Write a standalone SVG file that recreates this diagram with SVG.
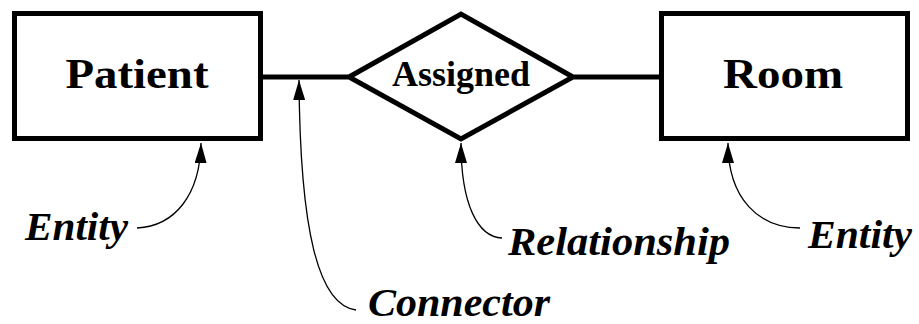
<svg xmlns="http://www.w3.org/2000/svg" width="919" height="324" viewBox="0 0 919 324">
<style>
.shape{fill:#fff;stroke:#000;stroke-width:5}
.link{fill:none;stroke:#000;stroke-width:5}
.name{font-family:"Liberation Serif","Times New Roman",serif;font-weight:bold;fill:#000;text-anchor:middle}
.lbl{font-family:"Liberation Serif","Times New Roman",serif;font-weight:bold;font-style:italic;font-size:41px;fill:#000}
.ptr{fill:none;stroke:#000;stroke-width:1.3}
</style>
<defs>
<marker id="ah" viewBox="0 0 20 12" refX="20" refY="6" markerWidth="20" markerHeight="12" markerUnits="userSpaceOnUse" orient="auto">
<path d="M0,0 L20,6 L0,12 z" fill="#000"/>
</marker>
</defs>
<g id="connectors">
<line class="link" x1="262" y1="77" x2="348" y2="77"/>
<line class="link" x1="574" y1="77" x2="660" y2="77"/>
</g>
<g id="patient">
<rect class="shape" x="14.5" y="13.5" width="246" height="125"/>
<text class="name" x="137" y="88" font-size="43" textLength="143" lengthAdjust="spacingAndGlyphs">Patient</text>
</g>
<g id="assigned">
<path class="shape" d="M349,77 L461,14 L573,77 L461,139 Z" stroke-linejoin="miter"/>
<text class="name" x="461" y="86" font-size="35" textLength="138" lengthAdjust="spacingAndGlyphs">Assigned</text>
</g>
<g id="room">
<rect class="shape" x="661.5" y="13.5" width="246" height="125"/>
<text class="name" x="783" y="88" font-size="43" textLength="120" lengthAdjust="spacingAndGlyphs">Room</text>
</g>
<g id="annotations">
<path class="ptr" d="M137,228 C175,226 200,195 201,143" marker-end="url(#ah)"/>
<path class="ptr" d="M356,310 C318,305 300,230 299,80" marker-end="url(#ah)"/>
<path class="ptr" d="M502,238 C478,237 461,205 461,143" marker-end="url(#ah)"/>
<path class="ptr" d="M800,228 C760,228 728,200 728,143" marker-end="url(#ah)"/>
<text class="lbl" x="25" y="240" textLength="103" lengthAdjust="spacingAndGlyphs">Entity</text>
<text class="lbl" x="368" y="316" textLength="182" lengthAdjust="spacingAndGlyphs">Connector</text>
<text class="lbl" x="508" y="255" textLength="222" lengthAdjust="spacingAndGlyphs">Relationship</text>
<text class="lbl" x="808" y="248" textLength="104" lengthAdjust="spacingAndGlyphs">Entity</text>
</g>
</svg>
